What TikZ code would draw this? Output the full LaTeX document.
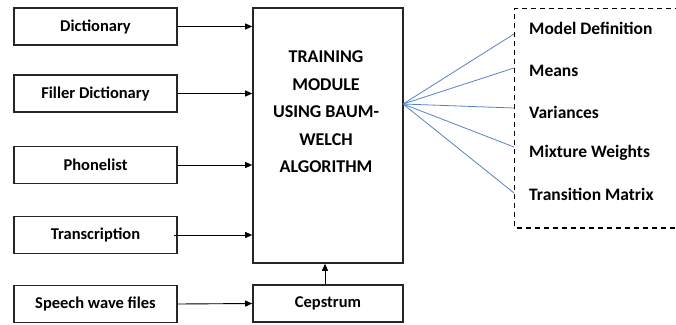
\documentclass[tikz,border=0pt]{standalone}
\usepackage{fontspec}
\setmainfont{Carlito}
\usetikzlibrary{arrows.meta}
\begin{document}
\begin{tikzpicture}[x=1pt,y=-1pt,
  box/.style={draw=black!85,line width=1.6pt,minimum width=163pt,minimum height=37pt,inner sep=0pt,font=\bfseries\fontsize{16.5}{18}\selectfont},
  arr/.style={-{Triangle[length=7pt,width=6pt]},line width=0.9pt},
  lnk/.style={line width=0.8pt,draw={rgb,255:red,84;green,130;blue,200}},
  lbl/.style={anchor=west,inner sep=0pt,font=\bfseries\fontsize{17.5}{19}\selectfont}]
\useasboundingbox (0,0) rectangle (676,324);
\node[box] (dict) at (95.5,26.5) {Dictionary};
\node[box] (fill) at (95.5,93.5) {Filler Dictionary};
\node[box] (phon) at (95.5,165) {Phonelist};
\node[box] (tran) at (95.5,235) {Transcription};
\node[box] (spch) at (95.5,304) {Speech wave files};
\node[draw=black!85,line width=1.6pt,minimum width=150pt,minimum height=255pt,inner sep=0pt] (main) at (328,135.5) {};
\node[align=center,font=\bfseries\fontsize{18}{27.5}\selectfont] (mtxt) at (326,112) {TRAINING\\MODULE\\USING BAUM-\\WELCH\\ALGORITHM};
\node[box,minimum width=150pt] (ceps) at (328,303.5) {Cepstrum};
\draw[arr] (dict.east) -- (main.west |- dict.east);
\draw[arr] (fill.east) -- (main.west |- fill.east);
\draw[arr] (phon.east) -- (main.west |- phon.east);
\draw[arr] ([xshift=-4pt]tran.east) -- (main.west |- tran.east);
\draw[arr] (spch.east) -- (ceps.west);
\draw[arr] ([xshift=-3pt]ceps.north) -- ([xshift=-3pt]ceps.north |- main.south);
\coordinate (hub) at (403,104);
\coordinate (e1) at (514,34);
\coordinate (e2) at (514,68);
\coordinate (e3) at (514,108);
\coordinate (e4) at (514,147);
\coordinate (e5) at (514,193);
\foreach \e in {e1,e2,e3,e4,e5} \draw[lnk] (hub) -- (\e);
\draw[dash pattern=on 5pt off 4pt,line width=1.2pt] (680,8.5) -- (514.5,8.5) -- (514.5,228) -- (680,228);
\node[lbl] (o1) at (529,28) {Model Definition};
\node[lbl] (o2) at (529,71) {Means};
\node[lbl] (o3) at (529,112) {Variances};
\node[lbl] (o4) at (529,153) {Mixture Weights};
\node[lbl] (o5) at (529,194) {Transition Matrix};
\end{tikzpicture}
\end{document}
